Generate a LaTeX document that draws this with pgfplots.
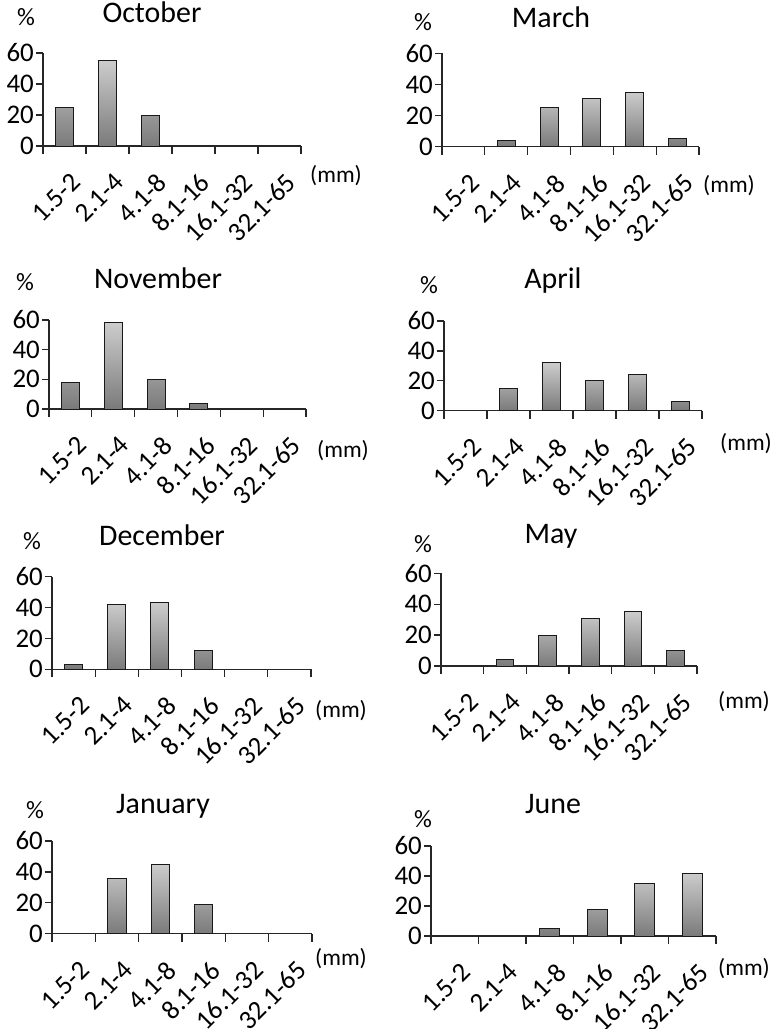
\documentclass[border=0pt]{standalone}
\usepackage{pgfplots}
\pgfplotsset{compat=1.18}
\usepackage{fontspec}
\setmainfont{Carlito}
\newcommand{\TF}{\fontsize{30}{32}\selectfont}
\newcommand{\KF}{\fontsize{27}{29}\selectfont}
\newcommand{\MF}{\fontsize{23.5}{25}\selectfont}
\newcommand{\PF}{\fontsize{25}{27}\selectfont}
\pgfplotsset{
  gs/.style={
    scale only axis,
    anchor=south west,
    ymin=0, ymax=60, ytick={0,20,40,60},
    xmin=-0.5, xmax=5.5,
    xtick={0,...,5},
    xticklabels={1.5-2,2.1-4,4.1-8,8.1-16,16.1-32,32.1-65},
    minor xtick={-0.5,0.5,...,5.5},
    major x tick style={draw=none},
    axis x line*=bottom, axis y line*=left,
    tick align=outside,
    major tick length=7bp, minor tick length=8bp,
    /pgf/number format/assume math mode=true,
    xticklabel style={xshift=5bp, yshift=-17bp, rotate=45, anchor=north east, font=\KF, inner sep=1bp},
    yticklabel style={font=\KF, inner sep=2bp},
    ybar, bar width=0.42,
    axis line style={line width=1.3bp, black!85},
    every tick/.style={line width=1.3bp, black!85},
    clip=false,
  },
  gbar/.style={draw=black!90, line width=1bp, top color=black!20, bottom color=black!52},
}
\begin{document}
\begin{tikzpicture}
\useasboundingbox (0,0) rectangle (774bp,-1029bp);
% October
\begin{axis}[gs, at={(43bp,-146bp)}, width=258bp, height=93bp]
\addplot[gbar] coordinates {(0,25) (1,55) (2,20)};
\end{axis}
% March
\begin{axis}[gs, at={(442bp,-146.7bp)}, width=257bp, height=93.4bp]
\addplot[gbar] coordinates {(1,4) (2,25) (3,31) (4,35) (5,5)};
\end{axis}
% November
\begin{axis}[gs, at={(49bp,-409bp)}, width=257bp, height=89bp]
\addplot[gbar] coordinates {(0,18) (1,58) (2,20) (3,4)};
\end{axis}
% April
\begin{axis}[gs, at={(444bp,-410.7bp)}, width=258bp, height=89.7bp]
\addplot[gbar] coordinates {(1,15) (2,32) (3,20) (4,24) (5,6)};
\end{axis}
% December
\begin{axis}[gs, at={(52bp,-669.3bp)}, width=259bp, height=92.6bp]
\addplot[gbar] coordinates {(0,3) (1,42) (2,43) (3,12)};
\end{axis}
% May
\begin{axis}[gs, at={(441bp,-666bp)}, width=256bp, height=92.7bp]
\addplot[gbar] coordinates {(1,4) (2,20) (3,31) (4,35) (5,10)};
\end{axis}
% January
\begin{axis}[gs, at={(52bp,-933.7bp)}, width=260bp, height=92.7bp]
\addplot[gbar] coordinates {(1,36) (2,45) (3,19)};
\end{axis}
% June
\begin{axis}[gs, at={(431bp,-936bp)}, width=285bp, height=90bp]
\addplot[gbar] coordinates {(2,5) (3,18) (4,35) (5,42)};
\end{axis}
% titles
\node[anchor=base, font=\TF] at (152bp,-22bp) {October};
\node[anchor=base, font=\TF] at (551bp,-27bp) {March};
\node[anchor=base, font=\TF] at (158bp,-288bp) {November};
\node[anchor=base, font=\TF] at (553bp,-288bp) {April};
\node[anchor=base, font=\TF] at (162bp,-545bp) {December};
\node[anchor=base, font=\TF] at (551bp,-543bp) {May};
\node[anchor=base, font=\TF] at (163bp,-813bp) {January};
\node[anchor=base, font=\TF] at (553bp,-813bp) {June};
% percent
\node[anchor=base, font=\PF] at (26bp,-25bp) {\%};
\node[anchor=base, font=\PF] at (423bp,-30bp) {\%};
\node[anchor=base, font=\PF] at (25bp,-290bp) {\%};
\node[anchor=base, font=\PF] at (429bp,-293bp) {\%};
\node[anchor=base, font=\PF] at (32bp,-549bp) {\%};
\node[anchor=base, font=\PF] at (423bp,-552bp) {\%};
\node[anchor=base, font=\PF] at (35bp,-818bp) {\%};
\node[anchor=base, font=\PF] at (423bp,-827bp) {\%};
% (mm)
\node[anchor=base west, font=\MF, inner sep=0pt] at (310bp,-182bp) {(mm)};
\node[anchor=base west, font=\MF, inner sep=0pt] at (703bp,-192bp) {(mm)};
\node[anchor=base west, font=\MF, inner sep=0pt] at (317bp,-457bp) {(mm)};
\node[anchor=base west, font=\MF, inner sep=0pt] at (720bp,-450bp) {(mm)};
\node[anchor=base west, font=\MF, inner sep=0pt] at (315bp,-717bp) {(mm)};
\node[anchor=base west, font=\MF, inner sep=0pt] at (718bp,-708bp) {(mm)};
\node[anchor=base west, font=\MF, inner sep=0pt] at (315bp,-965bp) {(mm)};
\node[anchor=base west, font=\MF, inner sep=0pt] at (718bp,-975bp) {(mm)};
\end{tikzpicture}
\end{document}
